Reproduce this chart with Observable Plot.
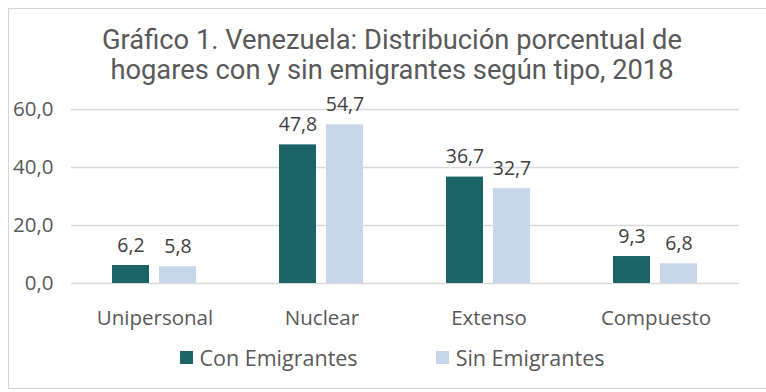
<!DOCTYPE html>
<html>
<head>
<meta charset="utf-8">
<script src="https://cdn.jsdelivr.net/npm/d3@7"></script>
<script src="https://cdn.jsdelivr.net/npm/@observablehq/plot@0.6"></script>
<style>
  html, body { margin: 0; padding: 0; background: #ffffff; }
  #chart { position: relative; width: 766px; height: 392px; overflow: hidden; background: #fff; }
  #frame { position: absolute; left: 8px; top: 8px; width: 780px; height: 381px;
           border: 1.5px solid #d6d6d6; box-sizing: border-box; }
  #title { position: absolute; left: 0; top: 25px; width: 784px; text-align: center;
           font-family: Roboto, sans-serif; font-size: 27.3px; line-height: 30px; color: #595959; }
  #plot { position: absolute; left: 0; top: 90px; }
  #legend { position: absolute; left: 0; top: 343px; width: 784px; display: flex; justify-content: center;
            gap: 78px; font-family: "Open Sans", sans-serif; font-size: 21.5px; color: #595959; }
  .item { display: flex; align-items: center; gap: 7px; }
  .sw { width: 13px; height: 13px; display: inline-block; }
</style>
</head>
<body>
<div id="chart">
  <div id="frame"></div>
  <div id="title">Gráfico 1. Venezuela: Distribución porcentual de<br>hogares con y sin emigrantes según tipo, 2018</div>
  <div id="plot"></div>
  <div id="legend"></div>
</div>
<script>
// Household types and the two series (% of households)
const tipos = ["Unipersonal", "Nuclear", "Extenso", "Compuesto"];
const series = ["Con Emigrantes", "Sin Emigrantes"];
const conEmigrantes = [6.2, 47.8, 36.7, 9.3];
const sinEmigrantes = [5.8, 54.7, 32.7, 6.8];
const yTicks = [0, 20, 40, 60];
const colores = ["#1a6366", "#c6d7ec"];

const datos = tipos.flatMap((t, i) => [
  {tipo: t, serie: series[0], valor: conEmigrantes[i]},
  {tipo: t, serie: series[1], valor: sinEmigrantes[i]}
]);

const coma = d => d.toFixed(1).replace(".", ",");

const chart = Plot.plot({
  width: 766,
  height: 250,
  marginTop: 19,
  marginBottom: 57,
  marginLeft: 70,
  marginRight: 26,
  style: {fontFamily: "'Open Sans', sans-serif", fontSize: "20.5px", color: "#595959", background: "transparent"},
  fx: {domain: tipos, padding: 0, label: null, axis: "bottom", tickSize: 0, tickPadding: 27},
  x: {domain: series, axis: null, paddingInner: 0.21, paddingOuter: 0.87},
  y: {domain: [0, 60], ticks: yTicks, tickFormat: coma, label: null, tickSize: 0, tickPadding: 18},
  color: {domain: series, range: colores},
  marks: [
    Plot.ruleY(yTicks, {stroke: "#d9d9d9", strokeWidth: 1.3}),
    Plot.barY(datos, {fx: "tipo", x: "serie", y: "valor", fill: "serie"}),
    Plot.text(datos, {fx: "tipo", x: "serie", y: "valor", text: d => coma(d.valor),
                      dy: -20, fill: "#404040", fontSize: 19.5})
  ]
});
document.getElementById("plot").appendChild(chart);

// Legend below the chart
const legend = document.getElementById("legend");
series.forEach((s, i) => {
  const item = document.createElement("div");
  item.className = "item";
  const sw = document.createElement("span");
  sw.className = "sw";
  sw.style.background = colores[i];
  const label = document.createElement("span");
  label.textContent = s;
  item.appendChild(sw);
  item.appendChild(label);
  legend.appendChild(item);
});
</script>
</body>
</html>
